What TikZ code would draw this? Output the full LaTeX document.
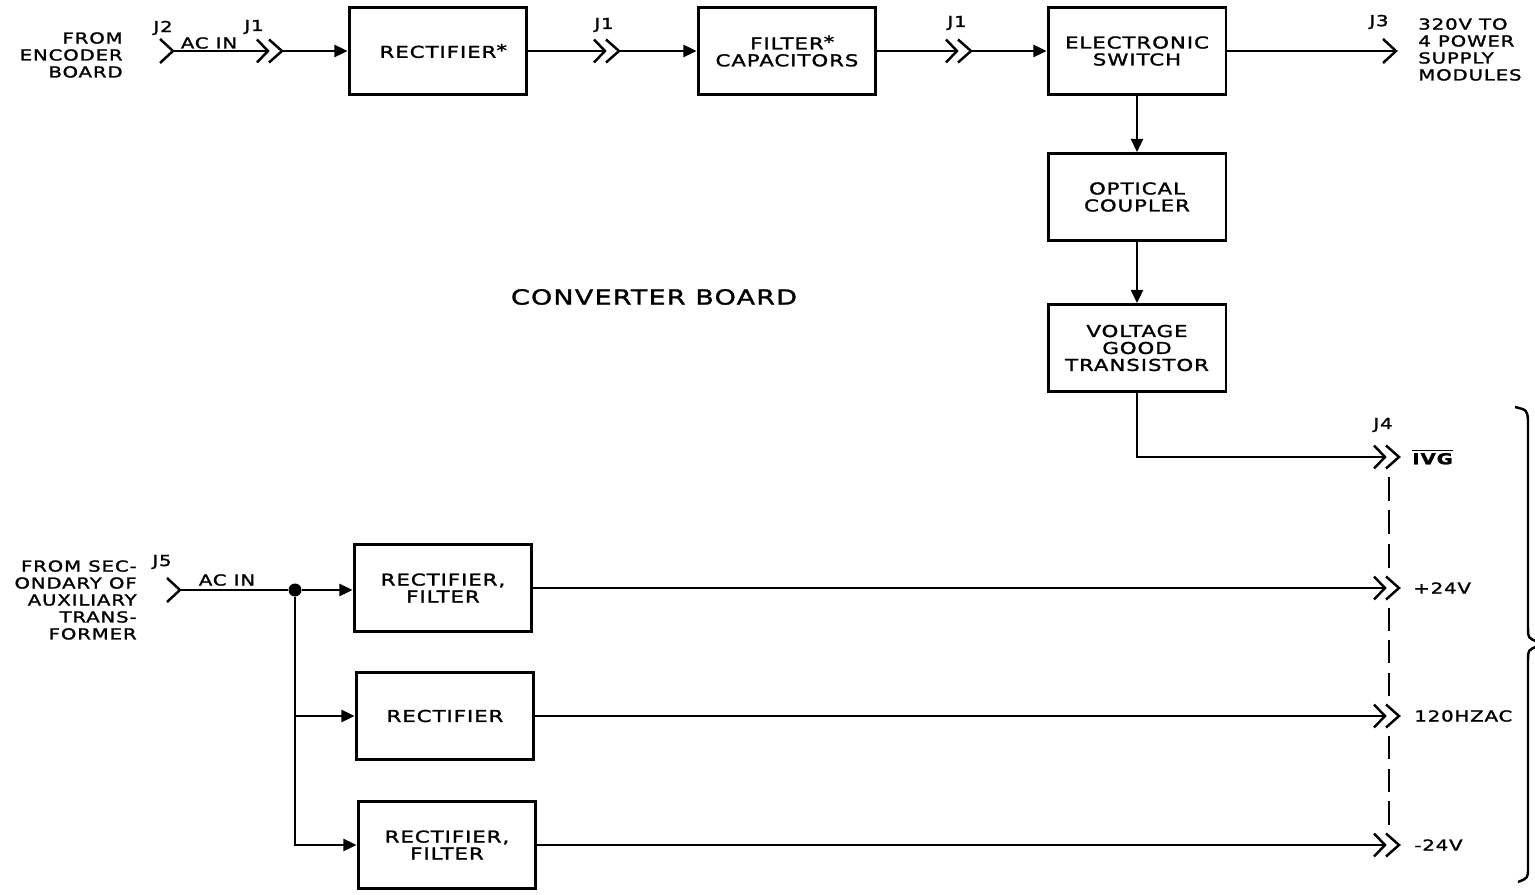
\documentclass[tikz,border=0pt]{standalone}
\usepackage{fontspec}
\setmainfont{DejaVu Sans}[FakeStretch=1.3, LetterSpace=6, FakeBold=1.6]
\usetikzlibrary{arrows.meta, positioning, calc}
\newcommand\blk{\fontsize{9.3}{9.65}\selectfont}
\newcommand\sml{\fontsize{8.6}{9.65}\selectfont}

\begin{document}
\begin{tikzpicture}[x=0.02cm, y=-0.02cm, font=\blk, >={Triangle[length=7.5pt, width=7pt]}]
\tikzset{
    block/.style={draw, line width=1.7pt, minimum width=3.56cm, minimum height=1.74cm, align=center, inner sep=0pt},
    wire/.style={line width=1pt},
    link/.style={line width=1.3pt},
    side/.style={font=\sml, inner sep=0pt},
    tag/.style={font=\sml, inner sep=0pt},
    jack/.pic={
        \draw[line width=1.4pt] (-11,-11.5) -- (0,0) -- (-11,11.5);
        \draw[line width=1.4pt] (1,-11.5) -- (14,0) -- (1,11.5);
        \coordinate (-in) at (0,0);
        \coordinate (-out) at (14,0);
        \coordinate (-n) at (4,-17);
        \coordinate (-s) at (4,17);
    },
    plug/.pic={
        \draw[line width=1.4pt] (-13,-12) -- (0,0) -- (-13,12);
        \coordinate (-tip) at (0,0);
    }
}
\useasboundingbox (0,0) rectangle (1535,895);

\node[block] (rect) at (438,51) {RECTIFIER\rlap{\raisebox{1pt}{*}}};
\node[block] (filt) at (787,51) {FILTER\rlap{\raisebox{1pt}{*}}\\CAPACITORS};
\node[block] (esw) at (1137,51) {ELECTRONIC\\SWITCH};
\node[block] (ocp) at (1137,197) {OPTICAL\\COUPLER};
\node[block] (vgt) at (1137,348) {VOLTAGE\\GOOD\\TRANSISTOR};
\node[block] (rf1) at (443,588) {RECTIFIER,\\FILTER};
\node[block] (rc2) at (445,716) {RECTIFIER};
\node[block] (rf3) at (447,845) {RECTIFIER,\\FILTER};
\node[circle, fill, inner sep=0pt, minimum size=0.26cm] (tap) at (295,590) {};

\pic (jenc) at (173,51) {plug};
\pic (ja) at (268,51) {jack};
\pic (jb) at (605,51) {jack};
\pic (jc) at (957,51) {jack};
\pic (jd) at (1396,51) {plug};
\pic (jivg) at (1385,457) {jack};
\pic (jp) at (1385,588) {jack};
\pic (jz) at (1385,716) {jack};
\pic (jm) at (1385,845) {jack};
\pic (jaux) at (180,590) {plug};

\draw[wire] (jenc-tip) -- (ja-in);
\draw[wire,->] (ja-out) -- (rect);
\draw[wire] (rect) -- (jb-in);
\draw[wire,->] (jb-out) -- (filt);
\draw[wire] (filt) -- (jc-in);
\draw[wire,->] (jc-out) -- (esw);
\draw[wire] (esw) -- (jd-tip);
\draw[wire,->] (esw) -- (ocp);
\draw[wire,->] (ocp) -- (vgt);
\draw[wire] (vgt) |- (jivg-in);

\draw[wire] (jaux-tip) -- (tap);
\draw[wire,->] (tap) -- (tap -| rf1.west);
\draw[wire,->] (tap) |- (rc2.west);
\draw[wire,->] (tap) |- (rf3.west);
\draw[wire] (rf1) -- (jp-in);
\draw[wire] (rc2) -- (jz-in);
\draw[wire] (rf3) -- (jm-in);

% dashed tie between the J4 pins, three dashes per gap
\foreach \a/\b in {jivg-s/jp-n, jp-s/jz-n, jz-s/jm-n}
    \foreach \t in {0.03, 0.375, 0.72}
        \draw[link] ($(\a)!\t!(\b)$) -- ($(\a)!\t+0.245!(\b)$);

\node[side, anchor=east, align=right] (enc) at (123,55) {FROM\\ENCODER\\BOARD};
\node[tag] (lj2) at (163,28) {J2};
\node[tag] (acin) at (209,43) {AC IN};
\node[tag] (lj1a) at (254,27) {J1};
\node[tag] (lj1b) at (604,25) {J1};
\node[tag] (lj1c) at (957,23) {J1};
\node[tag] (lj3) at (1379,22) {J3};
\node[side, anchor=north west, align=left] (dest) at (1418,18) {320V TO\\4 POWER\\SUPPLY\\MODULES};
\node[font=\fontsize{11.8}{13}\selectfont, inner sep=0pt] (board) at (654,297) {CONVERTER BOARD};

\node[tag] (lj4) at (1383,425) {J4};
\node[side, right=0.26cm of jivg-out] (ivg) {\bfseries$\overline{\mbox{IVG}}$};
\node[side, right=0.28cm of jp-out] (p24) {+24V};
\node[side, right=0.30cm of jz-out] (hz) {120HZAC};
\node[side, right=0.30cm of jm-out] (m24) {-24V};

\node[side, anchor=east, align=right] (aux) at (137,600) {FROM SEC-\\ONDARY OF\\AUXILIARY\\TRANS-\\FORMER};
\node[tag] (lj5) at (162,562) {J5};
\node[tag] (acin2) at (227,580) {AC IN};

% group brace at the right edge
\draw[line width=1.4pt] (1515,407) .. controls (1527,410) .. (1528,420) -- (1528,628)
    .. controls (1528,638) .. (1538,642) (1538,646) .. controls (1528,650) .. (1528,660)
    -- (1528,868) .. controls (1528,878) .. (1518,882);
\end{tikzpicture}
\end{document}
